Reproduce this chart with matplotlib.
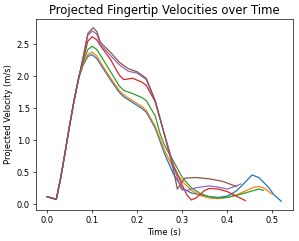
"""Projected fingertip velocities over time, one line per trial."""

import matplotlib
matplotlib.use('Agg')
import matplotlib.pyplot as plt

# shared start of every trial (before the curves split)
T_START = [0.0, 0.02, 0.03, 0.04, 0.05, 0.06, 0.07]
V_START = [0.12, 0.08, 0.42, 0.83, 1.25, 1.64, 1.98]

# trial 1 (blue)
t1 = [0.08, 0.09, 0.099, 0.11, 0.118, 0.14, 0.16, 0.17, 0.19, 0.21, 0.22, 0.24, 0.26,
      0.28, 0.30, 0.32, 0.34, 0.36, 0.38, 0.40, 0.42, 0.44, 0.455, 0.47, 0.49, 0.505, 0.52]
v1 = [2.18, 2.31, 2.34, 2.28, 2.19, 1.95, 1.75, 1.68, 1.59, 1.50, 1.44, 1.19, 0.80,
      0.48, 0.25, 0.18, 0.15, 0.12, 0.11, 0.13, 0.21, 0.35, 0.46, 0.42, 0.28, 0.14, 0.05]

# trial 2 (orange)
t2 = [0.08, 0.09, 0.099, 0.11, 0.118, 0.14, 0.16, 0.17, 0.19, 0.21, 0.22, 0.24, 0.26,
      0.28, 0.30, 0.32, 0.34, 0.36, 0.38, 0.40, 0.42, 0.44, 0.46, 0.47, 0.48, 0.50]
v2 = [2.20, 2.34, 2.38, 2.32, 2.22, 1.98, 1.78, 1.71, 1.62, 1.53, 1.47, 1.22, 0.85,
      0.57, 0.36, 0.22, 0.14, 0.10, 0.09, 0.11, 0.15, 0.21, 0.27, 0.28, 0.26, 0.16]

# trial 3 (green)
t3 = [0.08, 0.09, 0.10, 0.11, 0.118, 0.14, 0.16, 0.17, 0.19, 0.21, 0.22, 0.24, 0.25,
      0.26, 0.28, 0.30, 0.32, 0.34, 0.36, 0.38, 0.40, 0.42, 0.44, 0.46, 0.47, 0.48]
v3 = [2.23, 2.42, 2.47, 2.42, 2.33, 2.08, 1.85, 1.78, 1.73, 1.67, 1.62, 1.38, 1.12,
      0.93, 0.68, 0.42, 0.26, 0.17, 0.12, 0.10, 0.11, 0.14, 0.18, 0.22, 0.24, 0.22]

# trial 4 (red)
t4 = [0.08, 0.09, 0.10, 0.11, 0.118, 0.14, 0.16, 0.17, 0.19, 0.21, 0.22, 0.24, 0.26,
      0.28, 0.30, 0.31, 0.32, 0.33, 0.35, 0.36, 0.38, 0.40, 0.42, 0.44]
v4 = [2.27, 2.55, 2.62, 2.57, 2.48, 2.27, 2.02, 1.95, 1.97, 1.91, 1.86, 1.60, 1.10,
      0.62, 0.30, 0.15, 0.07, 0.10, 0.22, 0.25, 0.24, 0.20, 0.13, 0.06]

# trial 5 (purple)
t5 = [0.08, 0.09, 0.10, 0.11, 0.118, 0.14, 0.16, 0.18, 0.20, 0.22, 0.24, 0.26, 0.28,
      0.298, 0.31, 0.33, 0.36, 0.38, 0.40, 0.42, 0.43]
v5 = [2.30, 2.64, 2.71, 2.66, 2.50, 2.33, 2.18, 2.08, 2.05, 1.95, 1.60, 1.10, 0.60,
      0.23, 0.22, 0.26, 0.29, 0.27, 0.24, 0.29, 0.32]

# trial 6 (brown)
t6 = [0.08, 0.09, 0.102, 0.11, 0.118, 0.14, 0.16, 0.18, 0.20, 0.22, 0.24, 0.26, 0.28,
      0.289, 0.305, 0.33, 0.36, 0.39, 0.42]
v6 = [2.31, 2.67, 2.76, 2.70, 2.53, 2.38, 2.22, 2.12, 2.07, 1.97, 1.62, 1.10, 0.55,
      0.24, 0.41, 0.42, 0.40, 0.36, 0.28]

TRIALS = [(t1, v1), (t2, v2), (t3, v3), (t4, v4), (t5, v5), (t6, v6)]

plt.rcParams['font.size'] = 10

fig = plt.figure(figsize=(299 / 60, 241 / 60), dpi=60)
ax = fig.add_axes([0.119, 0.129, 0.861, 0.792])

for t, v in TRIALS:
    ax.plot(T_START + t, V_START + v)

ax.set_xlabel('Time (s)')
ax.set_ylabel('Projected Velocity (m/s)')
ax.set_title('Projected Fingertip Velocities over Time', fontsize=14)

fig.savefig('out.png', dpi=60)
